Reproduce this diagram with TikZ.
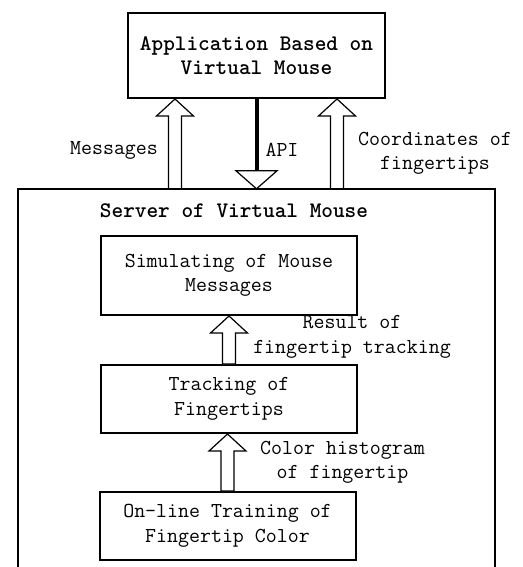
\documentclass[tikz,border=0pt]{standalone}
\usepackage{fontspec}
\usetikzlibrary{calc}
\newcommand\normtext{\ttfamily\fontsize{21.3}{24.5}\selectfont}
\newcommand\boldtext{\ttfamily\bfseries\fontsize{22.2}{24.5}\selectfont}
\tikzset{
  box/.style={draw, line width=2pt, minimum width=256pt, inner sep=0pt, align=center, font=\normtext},
  lbl/.style={align=center, font=\normtext, inner sep=0pt},
  harrow/.style={draw, line width=1.2pt, fill=white, line join=miter},
}
% hollow upward arrow from #1 (bottom) to #2 (top)
\newcommand\hollowup[2]{%
  \draw[harrow] let \p1=(#1), \p2=(#2) in
    (\x1-6.5pt,\y1) -- (\x1-6.5pt,\y2-17pt) -- (\x1-18.5pt,\y2-17pt) -- (\x1,\y2)
    -- (\x1+18.5pt,\y2-17pt) -- (\x1+6.5pt,\y2-17pt) -- (\x1+6.5pt,\y1) -- cycle;}
\begin{document}
\begin{tikzpicture}[x=1pt,y=-1pt]
\useasboundingbox (0,0) rectangle (522,567);
% nodes
\node[box, font=\boldtext, minimum width=257pt, minimum height=85pt] (app) at (256.5,55.5) {Application Based on\\Virtual Mouse};
\node[minimum width=477pt, minimum height=380pt, inner sep=0pt] (server) at (256.5,379) {};
\node[lbl, font=\boldtext] (srvlbl) at (234,211) {Server of Virtual Mouse};
\node[box, minimum height=79pt] (sim) at (229,275.5) {Simulating of Mouse\\Messages};
\node[box, minimum height=68pt] (track) at (229,399) {Tracking of\\Fingertips};
\node[box, minimum height=68pt] (train) at (227.5,526) {On-line Training of\\Fingertip Color};
% server frame (bottom cut off)
\draw[line width=2pt] (server.south west) -- (server.north west) -- (server.north east) -- (server.south east);
% arrow x positions
\coordinate (mx) at (175,0);
\coordinate (cx) at (337,0);
\coordinate (ax) at (256.5,0);
% hollow arrows
\hollowup{server.north -| mx}{app.south -| mx}
\hollowup{server.north -| cx}{app.south -| cx}
\hollowup{track.north -| sim.south}{sim.south}
\hollowup{train.north}{track.south -| train.north}
% API arrow
\draw[line width=4pt] (app.south -| ax) -- ($(server.north -| ax)+(0,-17)$);
\draw[harrow] let \p1=(server.north -| ax) in
  (\x1-20.5pt,\y1+18pt) -- (\x1,\y1) -- (\x1+20.5pt,\y1+18pt) -- cycle;
% labels
\node[lbl] (lmsg) at (114,150) {Messages};
\node[lbl] (lapi) at (282,150) {API};
\node[lbl] (lcoord) at (435,153.5) {Coordinates of\\fingertips};
\node[lbl] (lres) at (352,337) {Result of\\fingertip tracking};
\node[lbl] (lcol) at (342.5,462.5) {Color histogram\\of fingertip};
\end{tikzpicture}
\end{document}
